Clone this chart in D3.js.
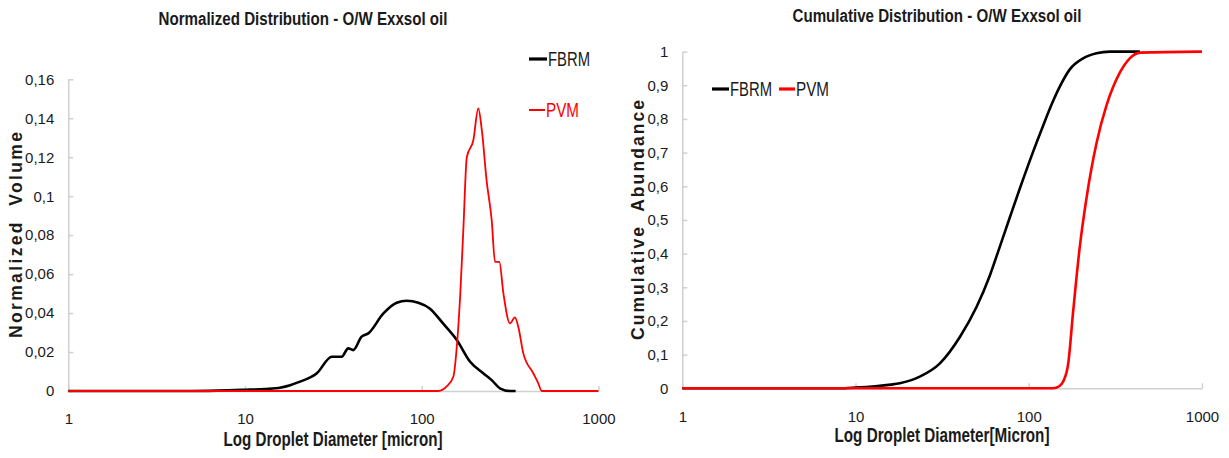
<!DOCTYPE html>
<html>
<head>
<meta charset="utf-8">
<script src="https://cdn.jsdelivr.net/npm/d3@7"></script>
<style>
  body { margin:0; background:#fff; }
  .narrow { font-family:"Liberation Sans Narrow","Arial Narrow",sans-serif; fill:#1a1a1a; }
</style>
</head>
<body>
<svg width="1229" height="458"></svg>
<script>
// normalized distribution (left)
var fbrmNormD = [1, 5, 8, 10, 13, 16, 18, 20.5, 25.5, 31, 35.2, 38.4, 41, 45.7, 49.9, 60.7, 72.2, 82.2, 95.7, 111, 132, 158, 188, 223, 249, 277, 316, 340]
var fbrmNormV = [0, 0, 0.0003, 0.0006, 0.001, 0.0018, 0.003, 0.0048, 0.0091, 0.0176, 0.0176, 0.0219, 0.021, 0.0279, 0.0296, 0.0398, 0.0453, 0.0463, 0.0453, 0.0424, 0.0347, 0.0262, 0.015, 0.0091, 0.0056, 0.0014, 0, 0]
var pvmNormD = [1, 124, 138, 151, 158, 165, 172, 180, 196, 209, 219, 233, 249, 260, 275, 290, 316, 337, 352, 376, 428, 457, 478, 1000]
var pvmNormV = [0, 0, 0.0022, 0.0073, 0.0227, 0.0484, 0.0826, 0.120, 0.1287, 0.145, 0.1338, 0.108, 0.0877, 0.0663, 0.0663, 0.0501, 0.0347, 0.0378, 0.033, 0.0193, 0.0091, 0.0039, 0, 0]

// cumulative distribution (right)
var fbrmCumD = [1, 8, 10, 13, 16, 18, 23.5, 30.7, 40.1, 50, 59.7, 68.1, 77.8, 88.9, 106, 121, 136, 150, 173, 206, 246, 294, 438]
var fbrmCumV = [0, 0, 0.002, 0.006, 0.011, 0.015, 0.0345, 0.074, 0.153, 0.242, 0.336, 0.421, 0.508, 0.594, 0.703, 0.780, 0.845, 0.893, 0.948, 0.980, 0.995, 1, 1]
var pvmCumD = [1, 138, 150, 158, 169, 180, 197, 216, 246, 281, 336, 383, 438, 1000]
var pvmCumV = [0, 0, 0.006, 0.02, 0.074, 0.223, 0.42, 0.569, 0.728, 0.840, 0.938, 0.980, 0.997, 1]

var xTicks = [1, 10, 100, 1000]
var normTicks = [0, 0.02, 0.04, 0.06, 0.08, 0.1, 0.12, 0.14, 0.16]
var cumTicks = [0, 0.1, 0.2, 0.3, 0.4, 0.5, 0.6, 0.7, 0.8, 0.9, 1]

var svg = d3.select("svg")
var comma = function(v){ return String(+v.toFixed(2)).replace(".", ",") }

var zip = function(xs, ys){ return xs.map(function(x, i){ return [x, ys[i]] }) }

var drawPanel = function(p)
{
    var xScale = d3.scaleLog().domain([1, 1000]).range([p.left, p.right])
    var yScale = d3.scaleLinear().domain([0, p.ymax]).range([p.bottom, p.top])

    var g = svg.append("g")

    var xAxis = d3.axisBottom(xScale).tickValues(xTicks).tickFormat(d3.format("d")).tickSizeInner(-5).tickSizeOuter(0).tickPadding(p.xpad)
    var yAxis = d3.axisLeft(yScale).tickValues(p.ticks).tickFormat(comma).tickSizeInner(-5).tickSizeOuter(0).tickPadding(14)

    g.append("g").attr("transform", "translate(0," + p.bottom + ")").call(xAxis)
    g.append("g").attr("transform", "translate(" + p.left + ",0)").call(yAxis)
    g.selectAll(".domain, .tick line").attr("stroke", "#d0d0d0").attr("stroke-width", 1.5)
    g.selectAll(".tick text")
        .style("font-family", "'Liberation Sans', Arial, sans-serif")
        .style("font-size", "15px").style("fill", "#1a1a1a")

    var line = d3.line()
        .x(function(d){ return xScale(d[0]) })
        .y(function(d){ return yScale(d[1]) })
        .curve(d3.curveMonotoneX)

    g.append("path").datum(zip(p.bd, p.bv))
        .attr("fill", "none").attr("stroke", "#000").attr("stroke-width", 2.6).attr("d", line)
    g.append("path").datum(zip(p.rd, p.rv))
        .attr("fill", "none").attr("stroke", "#ff0000").attr("stroke-width", p.redW).attr("d", line)

    g.append("text").attr("class", "narrow")
        .attr("x", p.titleX).attr("y", p.titleY).attr("text-anchor", "middle")
        .attr("font-weight", "bold").attr("font-size", 17.5)
        .attr("textLength", 289).attr("lengthAdjust", "spacingAndGlyphs").text(p.title)
    g.append("text").attr("class", "narrow")
        .attr("x", p.xlabX).attr("y", p.xlabY).attr("text-anchor", "middle")
        .attr("font-weight", "bold").attr("font-size", 19.5)
        .attr("textLength", p.xlabW).attr("lengthAdjust", "spacingAndGlyphs").text(p.xlab)
    g.append("text")
        .attr("transform", "translate(" + p.ylabX + "," + p.ylabY + ") rotate(-90)")
        .attr("text-anchor", "middle").attr("font-family", "Liberation Sans, Arial, sans-serif")
        .attr("font-weight", "bold").attr("font-size", 17.5).attr("fill", "#1a1a1a")
        .attr("textLength", p.ylabW).attr("lengthAdjust", "spacing")
        .style("white-space", "pre").text(p.ylab)

    p.legend.forEach(function(l)
    {
        g.append("line").attr("x1", l.x).attr("x2", l.x + l.len).attr("y1", l.y).attr("y2", l.y)
            .attr("stroke", l.color).attr("stroke-width", l.w)
        g.append("text").attr("class", "narrow").attr("x", l.x + l.len + 1).attr("y", l.y + 7)
            .attr("font-size", 19.5).style("fill", l.text)
            .attr("textLength", l.tw).attr("lengthAdjust", "spacingAndGlyphs").text(l.name)
    })
}

drawPanel({
    left:68.3, right:598.4, top:79.3, bottom:391, ymax:0.16, ticks:normTicks, xpad:22,
    bd:fbrmNormD, bv:fbrmNormV, rd:pvmNormD, rv:pvmNormV, redW:1.8,
    title:"Normalized Distribution - O/W Exxsol oil", titleX:303, titleY:25,
    xlab:"Log Droplet Diameter [micron]", xlabX:333, xlabY:446, xlabW:219,
    ylab:"Normalized  Volume", ylabX:22, ylabY:235, ylabW:206,
    legend:[{x:529, y:59, len:18, w:3.2, color:"#000", text:"#1a1a1a", name:"FBRM", tw:42},
            {x:529, y:110, len:16, w:2, color:"#ff0000", text:"#ff0000", name:"PVM", tw:33}]
})

drawPanel({
    left:682.3, right:1202, top:51.6, bottom:388.3, ymax:1, ticks:cumTicks, xpad:23,
    bd:fbrmCumD, bv:fbrmCumV, rd:pvmCumD, rv:pvmCumV, redW:2.6,
    title:"Cumulative Distribution - O/W Exxsol oil", titleX:937, titleY:22,
    xlab:"Log Droplet Diameter[Micron]", xlabX:942, xlabY:442, xlabW:215,
    ylab:"Cumulative  Abundance", ylabX:644, ylabY:220, ylabW:240,
    legend:[{x:712, y:89, len:17, w:3.2, color:"#000", text:"#1a1a1a", name:"FBRM", tw:42},
            {x:779, y:89, len:16, w:3.2, color:"#ff0000", text:"#1a1a1a", name:"PVM", tw:33}]
})
</script>
</body>
</html>
